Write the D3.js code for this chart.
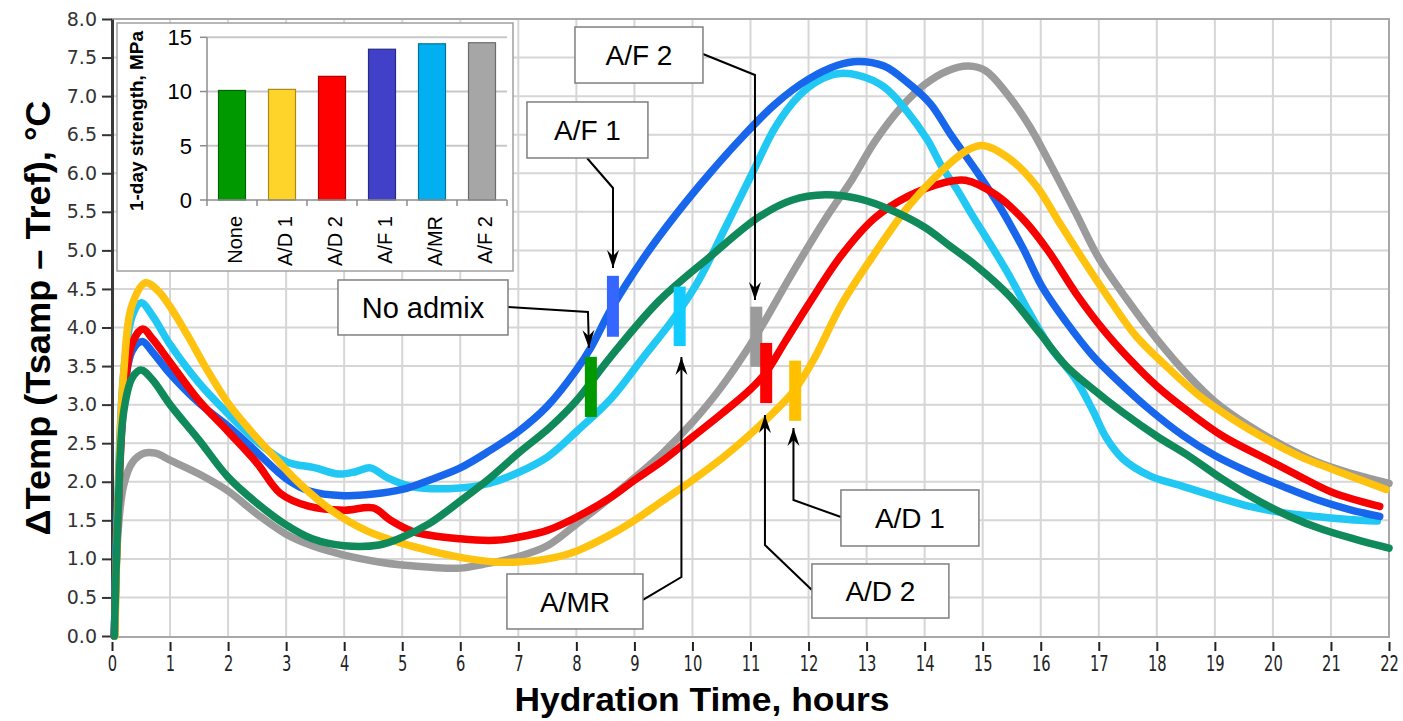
<!DOCTYPE html>
<html>
<head>
<meta charset="utf-8">
<script src="https://cdn.jsdelivr.net/npm/d3@7"></script>
<style>
  html, body { margin: 0; padding: 0; background: #ffffff; }
  svg { display: block; }
</style>
</head>
<body>
<svg id="chart" width="1403" height="721"></svg>
<script>
// ---- Temperature rise curves: [hours, ΔT °C] ----
const tempAF2 = [[0.05,0],[0.1,1.3],[0.2,1.95],[0.35,2.25],[0.55,2.37],[0.75,2.37],[1.0,2.28],[1.5,2.1],[2.0,1.88],[2.5,1.58],[3.0,1.32],[3.45,1.17],[4.0,1.05],[4.6,0.96],[5.0,0.92],[5.5,0.89],[6.0,0.88],[6.4,0.93],[7.0,1.03],[7.5,1.17],[8.0,1.45],[8.4,1.68],[9.0,2.05],[9.5,2.38],[10.0,2.77],[10.5,3.23],[11.1,3.9],[11.7,4.68],[12.3,5.42],[12.75,5.92],[13.15,6.42],[13.6,6.86],[14.0,7.15],[14.4,7.33],[14.75,7.39],[15.05,7.33],[15.4,7.05],[15.8,6.62],[16.15,6.14],[16.6,5.49],[17.0,4.9],[17.5,4.35],[18.0,3.85],[18.55,3.37],[19.0,3.04],[19.6,2.72],[20.2,2.46],[20.75,2.26],[21.3,2.12],[22.0,1.98]];
const tempAMR = [[0.04,0],[0.1,1.8],[0.2,3.4],[0.35,4.15],[0.5,4.32],[0.7,4.15],[1.0,3.78],[1.5,3.28],[2.0,2.88],[2.5,2.52],[3.0,2.26],[3.5,2.18],[3.9,2.1],[4.2,2.13],[4.45,2.18],[4.75,2.05],[5.2,1.93],[6.0,1.92],[6.5,1.98],[7.0,2.12],[7.5,2.32],[8.0,2.65],[8.6,3.08],[9.14,3.6],[9.71,4.15],[10.1,4.6],[10.57,5.3],[11.03,6.0],[11.43,6.6],[11.83,7.0],[12.17,7.2],[12.5,7.29],[12.86,7.27],[13.3,7.12],[13.7,6.8],[14.05,6.43],[14.3,6.08],[14.55,5.8],[14.8,5.48],[15.1,5.12],[15.46,4.67],[15.8,4.2],[16.15,3.76],[16.6,3.33],[16.9,2.92],[17.13,2.57],[17.41,2.3],[17.87,2.08],[18.45,1.94],[19.0,1.81],[19.6,1.68],[20.17,1.6],[20.75,1.55],[21.3,1.51],[21.8,1.49]];
const tempAF1 = [[0.04,0],[0.1,1.6],[0.2,3.1],[0.35,3.7],[0.52,3.82],[0.7,3.68],[1.0,3.4],[1.5,3.02],[2.0,2.72],[2.5,2.38],[3.0,2.04],[3.4,1.88],[4.0,1.82],[4.5,1.84],[5.0,1.9],[5.5,2.03],[6.0,2.18],[6.5,2.4],[7.0,2.65],[7.5,2.98],[8.0,3.45],[8.25,3.74],[8.6,4.24],[9.14,4.88],[9.71,5.46],[10.3,6.0],[10.86,6.47],[11.43,6.9],[12.0,7.22],[12.5,7.4],[12.85,7.45],[13.3,7.39],[13.7,7.18],[14.1,6.9],[14.45,6.5],[14.9,6.02],[15.3,5.56],[15.7,5.02],[16.03,4.52],[16.44,4.07],[16.9,3.63],[17.3,3.33],[17.87,2.94],[18.45,2.6],[19.0,2.34],[19.6,2.12],[20.17,1.94],[20.75,1.77],[21.32,1.64],[21.84,1.55]];
const tempAD2 = [[0.04,0],[0.1,1.5],[0.2,3.0],[0.35,3.8],[0.53,3.98],[0.7,3.85],[1.0,3.55],[1.5,3.05],[2.0,2.65],[2.5,2.24],[2.9,1.85],[3.4,1.68],[4.0,1.63],[4.5,1.66],[4.8,1.5],[5.2,1.35],[6.0,1.26],[6.6,1.24],[7.0,1.28],[7.5,1.37],[8.0,1.54],[8.6,1.8],[9.0,2.02],[9.5,2.28],[10.0,2.58],[10.5,2.88],[11.0,3.2],[11.27,3.42],[11.6,3.82],[12.0,4.3],[12.57,4.94],[13.14,5.42],[13.71,5.7],[14.29,5.87],[14.7,5.91],[15.23,5.72],[15.75,5.36],[16.15,4.97],[16.6,4.45],[17.07,3.98],[17.53,3.59],[18.0,3.24],[18.56,2.9],[19.14,2.59],[19.9,2.29],[20.46,2.07],[21.03,1.86],[21.84,1.68]];
const tempAD1 = [[0.05,0],[0.1,1.6],[0.2,3.4],[0.35,4.3],[0.58,4.58],[0.8,4.47],[1.0,4.27],[1.3,3.9],[1.6,3.5],[2.0,3.02],[2.4,2.65],[2.8,2.32],[3.2,2.0],[3.8,1.62],[4.4,1.36],[5.0,1.2],[5.5,1.1],[6.0,1.02],[6.6,0.96],[7.0,0.96],[7.5,1.0],[8.0,1.1],[8.6,1.32],[9.0,1.5],[9.5,1.76],[10.0,2.02],[10.5,2.3],[11.0,2.62],[11.4,2.9],[11.77,3.2],[12.1,3.6],[12.57,4.3],[13.14,4.96],[13.71,5.56],[14.29,6.03],[14.74,6.3],[15.0,6.36],[15.46,6.19],[15.92,5.84],[16.32,5.36],[16.72,4.89],[17.18,4.37],[17.64,3.89],[18.16,3.5],[18.74,3.11],[19.31,2.81],[19.89,2.55],[20.46,2.33],[21.03,2.16],[21.95,1.9]];
const tempNone = [[0.04,0],[0.1,1.5],[0.2,2.9],[0.35,3.35],[0.5,3.45],[0.7,3.32],[1.0,3.0],[1.5,2.54],[2.0,2.06],[2.5,1.72],[3.0,1.44],[3.45,1.26],[4.0,1.17],[4.6,1.18],[5.0,1.28],[5.45,1.45],[6.0,1.75],[6.5,2.04],[7.0,2.37],[7.55,2.71],[8.0,3.05],[8.57,3.6],[9.43,4.35],[10.29,4.91],[11.14,5.43],[11.71,5.65],[12.29,5.72],[12.86,5.67],[13.43,5.52],[14.0,5.3],[14.43,5.06],[14.89,4.8],[15.46,4.41],[15.98,3.93],[16.44,3.5],[16.9,3.2],[17.41,2.9],[18.0,2.59],[18.56,2.33],[19.14,2.03],[19.71,1.77],[20.29,1.55],[20.86,1.38],[21.44,1.25],[22.0,1.14]];

// ---- Set-time markers (hours, ΔT range) ----
const markerNames = ["No admix", "A/F 1", "A/MR", "A/F 2", "A/D 2", "A/D 1"];
const markerTimes = [8.25, 8.63, 9.78, 11.1, 11.27, 11.77];
const markerLow   = [2.84, 3.88, 3.76, 3.49, 3.02, 2.79];
const markerHigh  = [3.62, 4.67, 4.53, 4.27, 3.80, 3.57];

// ---- 1-day strength inset ----
const strengthCategories = ["None", "A/D 1", "A/D 2", "A/F 1", "A/MR", "A/F 2"];
const strengthValues = [10.1, 10.2, 11.4, 13.9, 14.4, 14.5];
const strengthTicks = [0, 5, 10, 15];

// ---- Axis ticks ----
const hourTicks = d3.range(0, 23);
const tempTicks = d3.range(0, 8.01, 0.5);

// ---- Callout labels ----
const calloutLabels = ["A/F 2", "A/F 1", "No admix", "A/MR", "A/D 2", "A/D 1"];

// ================= drawing =================
const svg = d3.select("#chart");
const x = d3.scaleLinear().domain([0, 22]).range([112, 1389]);
const y = d3.scaleLinear().domain([0, 8]).range([636, 19]);

// grid
const grid = svg.append("g").attr("stroke", "#d6d6d6").attr("stroke-width", 2);
grid.selectAll("line.gx").data(hourTicks.filter(d => d > 0 && d < 22)).join("line")
  .attr("class", "gx")
  .attr("x1", d => x(d)).attr("x2", d => x(d))
  .attr("y1", y(8)).attr("y2", y(0));
grid.selectAll("line.gy").data(tempTicks.filter(d => d > 0 && d < 8)).join("line")
  .attr("class", "gy")
  .attr("x1", x(0)).attr("x2", x(22))
  .attr("y1", d => y(d)).attr("y2", d => y(d));

// frame
svg.append("rect")
  .attr("x", x(0)).attr("y", y(8))
  .attr("width", x(22) - x(0)).attr("height", y(0) - y(8) + 1)
  .attr("fill", "none").attr("stroke", "#a8a8a8").attr("stroke-width", 2);

// y axis
svg.append("g")
  .attr("transform", `translate(${x(0)},0)`)
  .call(d3.axisLeft(y).tickValues(tempTicks).tickFormat(d3.format(".1f")).tickSize(10).tickSizeOuter(0).tickPadding(5))
  .call(g => g.select(".domain").attr("stroke", "#3a3a3a").attr("stroke-width", 3))
  .call(g => g.selectAll(".tick line").attr("stroke", "#333").attr("stroke-width", 2))
  .call(g => g.selectAll(".tick text")
    .attr("font-family", "DejaVu Sans, Verdana, sans-serif")
    .attr("font-size", 19).attr("fill", "#333"));

// x axis
svg.append("g")
  .attr("transform", `translate(0,${y(0) + 6})`)
  .call(d3.axisBottom(x).tickValues(hourTicks).tickFormat(d3.format("d")).tickSize(9).tickSizeOuter(0).tickPadding(5))
  .call(g => g.select(".domain").remove())
  .call(g => g.selectAll(".tick line").attr("stroke", "#222").attr("stroke-width", 2))
  .call(g => g.selectAll(".tick text")
    .attr("font-family", "DejaVu Sans, Tahoma, sans-serif")
    .attr("font-size", 21).attr("fill", "#222")
    .attr("transform", "scale(0.7,1)"));

// axis titles
svg.append("text")
  .attr("x", 702).attr("y", 711)
  .attr("text-anchor", "middle")
  .attr("font-family", "Liberation Sans, Arial, sans-serif")
  .attr("font-weight", "bold").attr("font-size", 34)
  .attr("textLength", 375).attr("lengthAdjust", "spacingAndGlyphs")
  .text("Hydration Time, hours");

svg.append("text")
  .attr("transform", "translate(50,318) rotate(-90)")
  .attr("text-anchor", "middle")
  .attr("font-family", "Liberation Sans, Arial, sans-serif")
  .attr("font-weight", "bold").attr("font-size", 35)
  .attr("textLength", 435).attr("lengthAdjust", "spacingAndGlyphs")
  .text("\u0394Temp (Tsamp \u2013 Tref), \u00B0C");

// curves (drawn bottom to top)
const curves = [
  { data: tempAF2, color: "#9b9b9b" },
  { data: tempAMR, color: "#22c8f4" },
  { data: tempAF1, color: "#1766ec" },
  { data: tempAD2, color: "#f60000" },
  { data: tempAD1, color: "#ffc20e" },
  { data: tempNone, color: "#10895b" }
];
const line = d3.line().x(d => x(d[0])).y(d => y(d[1])).curve(d3.curveCatmullRom.alpha(0.5));
svg.append("g").selectAll("path").data(curves).join("path")
  .attr("d", d => line(d.data))
  .attr("fill", "none")
  .attr("stroke", d => d.color)
  .attr("stroke-width", 7.5)
  .attr("stroke-linejoin", "round")
  .attr("stroke-linecap", "round");

// set-time markers
const markerColors = ["#009a00", "#3566ff", "#12ccff", "#9b9b9b", "#ff0000", "#ffc000"];
svg.append("g").selectAll("rect").data(markerTimes).join("rect")
  .attr("x", d => x(d) - 6)
  .attr("width", 12)
  .attr("y", (d, i) => y(markerHigh[i]))
  .attr("height", (d, i) => y(markerLow[i]) - y(markerHigh[i]))
  .attr("fill", (d, i) => markerColors[i]);

// callouts: box corners and leader paths in data units
const calloutLayout = [
  { box: [7.976, 7.896, 10.181, 7.170], lead: [[10.181, 7.546], [11.077, 7.274], [11.077, 4.357]] },
  { box: [7.149, 6.924, 9.233, 6.198],  lead: [[8.183, 6.198], [8.631, 5.809], [8.631, 4.772]] },
  { box: [3.893, 4.616, 6.822, 3.903],  lead: [[6.822, 4.266], [8.200, 4.201], [8.217, 3.734]] },
  { box: [6.804, 0.804, 9.147, 0.091],  lead: [[9.147, 0.467], [9.810, 0.765], [9.810, 3.617]] },
  { box: [12.058, 0.934, 14.418, 0.233], lead: [[12.058, 0.596], [11.249, 1.180], [11.249, 2.865]] },
  { box: [12.558, 1.893, 14.935, 1.167], lead: [[12.558, 1.543], [11.740, 1.763], [11.740, 2.697]] }
];
const calloutSizes = [28, 28, 29, 28, 28, 28];

svg.append("defs").append("marker")
  .attr("id", "arrowhead")
  .attr("markerUnits", "userSpaceOnUse")
  .attr("viewBox", "-20 -8 22 16")
  .attr("refX", 0).attr("refY", 0)
  .attr("markerWidth", 22).attr("markerHeight", 16)
  .attr("orient", "auto")
  .append("path")
  .attr("d", "M0,0 L-18,-6 L-12,0 L-18,6 Z")
  .attr("fill", "#000");

const leadLine = d3.line().x(d => x(d[0])).y(d => y(d[1]));
const callG = svg.append("g");
calloutLayout.forEach((c, i) => {
  callG.append("path")
    .attr("d", leadLine(c.lead))
    .attr("fill", "none").attr("stroke", "#000").attr("stroke-width", 2)
    .attr("marker-end", "url(#arrowhead)");
  const bx = x(c.box[0]), by = y(c.box[1]);
  const bw = x(c.box[2]) - bx, bh = y(c.box[3]) - by;
  callG.append("rect")
    .attr("x", bx).attr("y", by).attr("width", bw).attr("height", bh)
    .attr("fill", "#fff").attr("stroke", "#7f7f7f").attr("stroke-width", 1.5);
  callG.append("text")
    .attr("x", bx + bw / 2).attr("y", by + bh / 2)
    .attr("dy", "0.36em")
    .attr("text-anchor", "middle")
    .attr("font-family", "Liberation Sans, Arial, sans-serif")
    .attr("font-size", calloutSizes[i]).attr("fill", "#000")
    .text(calloutLabels[i]);
});

// ---- inset: 1-day strength bar chart ----
const inset = svg.append("g");
inset.append("rect")
  .attr("x", 117).attr("y", 23).attr("width", 396).attr("height", 248)
  .attr("fill", "#fff").attr("stroke", "#a0a0a0").attr("stroke-width", 1.5);

const xb = d3.scaleBand().domain(strengthCategories).range([207, 507]).paddingInner(0.46).paddingOuter(0.23);
const yb = d3.scaleLinear().domain([0, 15]).range([200, 37.3]);

inset.append("g").selectAll("line").data(strengthTicks.filter(d => d > 0)).join("line")
  .attr("x1", 207).attr("x2", 507)
  .attr("y1", d => yb(d)).attr("y2", d => yb(d))
  .attr("stroke", "#c8c8c8").attr("stroke-width", 2);

const barColors = ["#009900", "#ffd42a", "#ff0000", "#4040c8", "#00b0f0", "#a6a6a6"];
inset.append("g").selectAll("rect").data(strengthValues).join("rect")
  .attr("x", (d, i) => xb(strengthCategories[i]))
  .attr("width", xb.bandwidth())
  .attr("y", d => yb(d))
  .attr("height", d => yb(0) - yb(d))
  .attr("fill", (d, i) => barColors[i])
  .attr("stroke", (d, i) => d3.color(barColors[i]).darker(1.2))
  .attr("stroke-width", 1.2);

// inset axes
inset.append("line").attr("x1", 207).attr("x2", 507).attr("y1", yb(0)).attr("y2", yb(0))
  .attr("stroke", "#8c8c8c").attr("stroke-width", 1.5);
inset.append("line").attr("x1", 207).attr("x2", 207).attr("y1", yb(15)).attr("y2", yb(0))
  .attr("stroke", "#8c8c8c").attr("stroke-width", 1.5);
inset.append("g").selectAll("line").data(strengthTicks).join("line")
  .attr("x1", 200).attr("x2", 207)
  .attr("y1", d => yb(d)).attr("y2", d => yb(d))
  .attr("stroke", "#8c8c8c").attr("stroke-width", 1.5);
inset.append("g").selectAll("line").data(d3.range(strengthCategories.length + 1)).join("line")
  .attr("x1", d => 207 + d * xb.step()).attr("x2", d => 207 + d * xb.step())
  .attr("y1", yb(0)).attr("y2", yb(0) + 6)
  .attr("stroke", "#8c8c8c").attr("stroke-width", 1.5);

inset.append("g").selectAll("text").data(strengthTicks).join("text")
  .attr("x", 192).attr("y", d => yb(d)).attr("dy", "0.36em")
  .attr("text-anchor", "end")
  .attr("font-family", "Liberation Sans, Arial, sans-serif")
  .attr("font-size", 22).attr("fill", "#000")
  .text(d => d);

inset.append("g").selectAll("text").data(strengthCategories).join("text")
  .attr("transform", d => `translate(${xb(d) + xb.bandwidth() / 2 + 10},216) rotate(-90)`)
  .attr("text-anchor", "end")
  .attr("font-family", "Liberation Sans, Arial, sans-serif")
  .attr("font-size", 20).attr("fill", "#000")
  .text(d => d);

inset.append("text")
  .attr("transform", "translate(143,121) rotate(-90)")
  .attr("text-anchor", "middle")
  .attr("font-family", "Liberation Sans, Arial, sans-serif")
  .attr("font-weight", "bold").attr("font-size", 18)
  .attr("textLength", 180).attr("lengthAdjust", "spacingAndGlyphs")
  .text("1-day strength, MPa");
</script>
</body>
</html>
